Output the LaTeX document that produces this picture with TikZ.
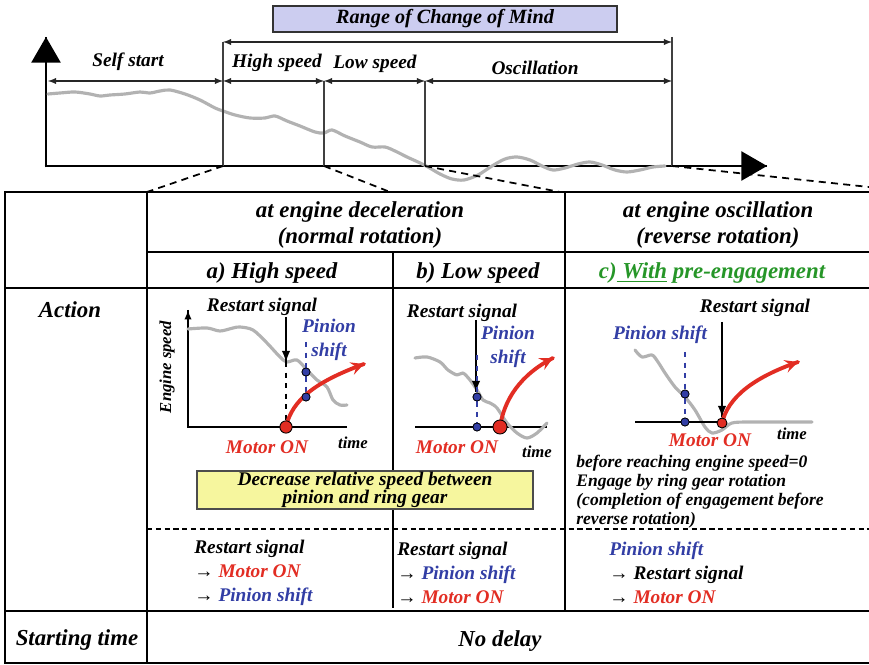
\documentclass[tikz,border=0pt]{standalone}
\usepackage{fontspec}
\setmainfont{Liberation Serif}
\usetikzlibrary{arrows,decorations.markings}
\definecolor{rangeblue}{RGB}{204,205,240}
\definecolor{speedgray}{RGB}{178,178,178}
\definecolor{motorred}{RGB}{226,45,35}
\definecolor{pinblue}{RGB}{50,62,165}
\definecolor{pregreen}{RGB}{38,150,40}
\definecolor{noteyellow}{RGB}{246,246,158}
\tikzset{
  txt/.style={font=\bfseries\itshape\fontsize{11}{13.6}\selectfont,inner sep=0pt},
  hdr/.style={font=\bfseries\itshape\fontsize{13}{14.8}\selectfont,align=center,inner sep=0pt},
  axislbl/.style={font=\bfseries\itshape\fontsize{9.5}{11}\selectfont,inner sep=0pt},
  speed/.style={line width=1.8pt,speedgray,line join=round,line cap=round},
  bound/.style={line width=0.8pt,black!75},
  dimline/.style={line width=0.6pt,black!85,<->,>=latex},
  zoomline/.style={line width=1pt,dash pattern=on 4pt off 3pt},
  bigtip/.style={decoration={markings,mark=at position 1 with {\arrow[scale=#1,>=triangle 60]{>}}},postaction={decorate}},
  redtip/.style={decoration={markings,mark=at position 1 with {\arrow[scale=#1,>=stealth]{>}}},postaction={decorate}},
  blktip/.style={decoration={markings,mark=at position 1 with {\arrow[scale=#1,>=latex]{>}}},postaction={decorate}},
  bdot/.style={circle,draw=black,line width=0.4pt,fill=pinblue,inner sep=0pt,minimum size=4.6pt},
  rdot/.style={circle,draw=black,line width=0.5pt,fill=motorred,inner sep=0pt,minimum size=#1},
  motor/.style={line width=2.2pt,motorred,line cap=round},
}

\begin{document}
\begin{tikzpicture}[x=0.02cm,y=-0.02cm]
\useasboundingbox (0,0) rectangle (869,665);

\node[txt,font=\bfseries\itshape\fontsize{11.5}{13}\selectfont,draw=black!80,line width=0.8pt,fill=rangeblue,
  minimum width=6.88cm,minimum height=0.52cm] (range) at (445,19) {Range of Change of Mind};

\coordinate (O) at (46,166);
\coordinate (ytop) at (46,37);
\coordinate (xend) at (767,166);
\draw[line width=1.7pt,bigtip=1.5] ([yshift=-0.85pt]O) -- (ytop);
\draw[line width=1.7pt,bigtip=1.5] ([xshift=-0.85pt]O) -- (xend);
\draw[speed] plot[smooth,tension=0.5] coordinates {(48,94) (60,93) (75,92) (90,94) (100,96) (110,95) (125,94)
  (140,92) (150,93) (160,91) (170,90) (185,94) (200,100) (215,108) (223,111) (235,115) (250,118) (265,118)
  (275,116) (287,121) (300,126) (315,132) (324,133) (332,130) (345,136) (360,142) (372,147) (385,147)
  (395,151) (407,157) (418,162) (428,167) (440,174) (452,179) (464,180) (478,175) (492,166) (505,159)
  (517,157) (530,160) (542,166) (553,170) (565,168) (578,164) (590,162) (602,165) (615,170) (627,172)
  (640,170) (653,167) (665,166)};

\coordinate (m1) at (223,42);
\coordinate (m2) at (324,81);
\coordinate (m3) at (425,81);
\coordinate (m4) at (672,37);
\draw[bound] (m1) -- (223,166);
\draw[bound] (m2) -- (324,166);
\draw[bound] (m3) -- (425,166);
\draw[bound] (m4) -- (672,166);
\draw[dimline] (223,42) -- (672,42);
\draw[dimline] (48,81) -- (223,81);
\draw[dimline] (223,81) -- (324,81);
\draw[dimline] (324,81) -- (425,81);
\draw[dimline] (425,81) -- (672,81);
\node[txt] (selfstart) at (128,62) {Self start};
\node[txt] (highspd) at (277,63) {High speed};
\node[txt] (lowspd) at (375,64) {Low speed};
\node[txt] (osc) at (535,68) {Oscillation};

\draw[zoomline] (223,166) -- (147,192);
\draw[zoomline] (324,166) -- (390,192);
\draw[zoomline] (425,166) -- (560,192);
\draw[zoomline] (672,166) -- (869,187);

\draw[line width=1.3pt] (869,192) -- (5,192) -- (5,663) -- (869,663);
\draw[line width=0.8pt] (147,192) -- (147,663);
\draw[line width=0.8pt] (565,192) -- (565,611);
\draw[line width=0.7pt] (147,252) -- (869,252);
\draw[line width=0.8pt] (5,288) -- (869,288);
\draw[line width=0.7pt] (393,252) -- (393,608);
\draw[line width=0.6pt,dash pattern=on 3pt off 2pt] (147,529) -- (869,529);
\draw[line width=1.1pt] (5,611) -- (869,611);

\node[hdr] (hdec) at (360,225) {at engine deceleration\\(normal rotation)};
\node[hdr] (hosc) at (718,225) {at engine oscillation\\(reverse rotation)};
\node[hdr] (ha) at (272,273) {a) High speed};
\node[hdr] (hb) at (478,273) {b) Low speed};
\node[hdr,pregreen] (hc) at (712,273) {c)\underline{\ With} pre-engagement};
\node[hdr] (action) at (70,310) {Action};
\node[hdr] (starttime) at (77,640) {Starting time};
\node[hdr] (nodelay) at (500,641) {No delay};

\draw[line width=1.6pt,blktip=0.7] (347,427) -- (188,427) -- (188,310);
\node[axislbl,rotate=90] (esA) at (167,367) {Engine speed};
\draw[speed] plot[smooth,tension=0.5] coordinates {(188,329) (207,328) (220,331) (233,328) (240,327)
  (253,330) (267,343) (280,357) (287,362) (297,360) (307,370) (317,380) (327,387) (333,400) (340,405) (347,405)};
\node[txt] (rsA) at (262,307) {Restart signal};
\coordinate (rsAtop) at (286,317);
\coordinate (rsAend) at (286,362);
\draw[line width=0.7pt,blktip=1.3] (rsAtop) -- (rsAend);
\draw[line width=0.6pt,dashed] (rsAend) -- (286,427);
\node[txt,pinblue,align=center] (psA) at (329,340) {Pinion\\shift};
\node[bdot] (b1A) at (306,372) {};
\node[bdot] (b2A) at (306,397) {};
\coordinate (psAtop) at (306,342);
\draw[pinblue,line width=0.6pt,dashed] (psAtop) -- (b1A) -- (b2A);
\coordinate (mAend) at (364,364);
\draw[motor,redtip=1] (286,427) .. controls (292,400) and (315,382) .. (mAend);
\node[bdot] at (b1A) {};
\node[bdot] at (b2A) {};
\node[rdot=7pt] (mA) at (286,427) {};
\node[txt,motorred] (moA) at (267,447) {Motor ON};
\node[axislbl] (tmA) at (353,443) {time};

\draw[line width=1.1pt] (415,427) -- (547,427);
\draw[speed] plot[smooth,tension=0.5] coordinates {(415,358) (427,357) (440,362) (448,370) (457,375) (463,373)
  (470,380) (477,390) (483,400) (490,403) (497,408) (507,423) (517,433) (527,438) (537,433) (547,423)};
\node[txt] (rsB) at (462,313) {Restart signal};
\coordinate (rsBtop) at (476,320);
\coordinate (rsBend) at (476,392);
\draw[line width=0.7pt,blktip=1.3] (rsBtop) -- (rsBend);
\node[txt,pinblue,align=center] (psB) at (508,347) {Pinion\\shift};
\node[bdot] (b1B) at (477,397) {};
\node[bdot] (b2B) at (477,427) {};
\coordinate (psBtop) at (477,355);
\draw[pinblue,line width=0.6pt,dashed] (psBtop) -- (b1B) -- (b2B);
\coordinate (mBend) at (553,358);
\draw[motor,redtip=1] (500,427) .. controls (504,400) and (520,375) .. (mBend);
\node[bdot] at (b1B) {};
\node[bdot] at (b2B) {};
\node[rdot=8pt] (mB) at (500,427) {};
\node[txt,motorred] (moB) at (457,447) {Motor ON};
\node[axislbl] (tmB) at (537,452) {time};

\draw[speed] plot[smooth,tension=0.5] coordinates {(635,350) (642,357) (652,355) (658,362) (665,373) (675,387)
  (685,397) (695,410) (705,427) (712,433) (722,430) (732,423) (752,422) (812,422)};
\draw[line width=1.1pt] (635,422) -- (727,422);
\node[txt] (rsC) at (755,308) {Restart signal};
\coordinate (rsCtop) at (722,322);
\coordinate (rsCend) at (722,417);
\draw[line width=0.7pt,blktip=1.3] (rsCtop) -- (rsCend);
\node[txt,pinblue] (psC) at (660,335) {Pinion shift};
\node[bdot] (b1C) at (685,394) {};
\node[bdot] (b2C) at (685,422) {};
\coordinate (psCtop) at (685,352);
\draw[pinblue,line width=0.6pt,dashed] (psCtop) -- (b1C) -- (b2C);
\coordinate (mCend) at (798,362);
\draw[motor,redtip=1] (722,423) .. controls (728,398) and (752,378) .. (mCend);
\node[bdot] at (b1C) {};
\node[bdot] at (b2C) {};
\node[rdot=5.7pt] (mC) at (722,423) {};
\node[txt,motorred] (moC) at (710,440) {Motor ON};
\node[axislbl] (tmC) at (792,434) {time};
\node[txt,font=\bfseries\itshape\fontsize{10}{10.8}\selectfont,align=left,anchor=north west] (noteC) at (576,455)
  {before reaching engine speed=0\\Engage by ring gear rotation\\(completion of engagement before\\reverse rotation)};

\node[txt,draw=black!70,line width=0.8pt,fill=noteyellow,align=center,minimum width=6.72cm,minimum height=0.76cm,
  font=\bfseries\itshape\fontsize{11}{10}\selectfont] (relspd) at (365,490) {Decrease relative speed between\\pinion and ring gear};

\node[txt,align=left,anchor=west] (ordA) at (194,573)
  {Restart signal\\→ {\color{motorred}Motor ON}\\→ {\color{pinblue}Pinion shift}};
\node[txt,align=left,anchor=west] (ordB) at (397,573)
  {Restart signal\\→ {\color{pinblue}Pinion shift}\\→ {\color{motorred}Motor ON}};
\node[txt,align=left,anchor=west] (ordC) at (609,573)
  {{\color{pinblue}Pinion shift}\\→ Restart signal\\→ {\color{motorred}Motor ON}};
\end{tikzpicture}
\end{document}
